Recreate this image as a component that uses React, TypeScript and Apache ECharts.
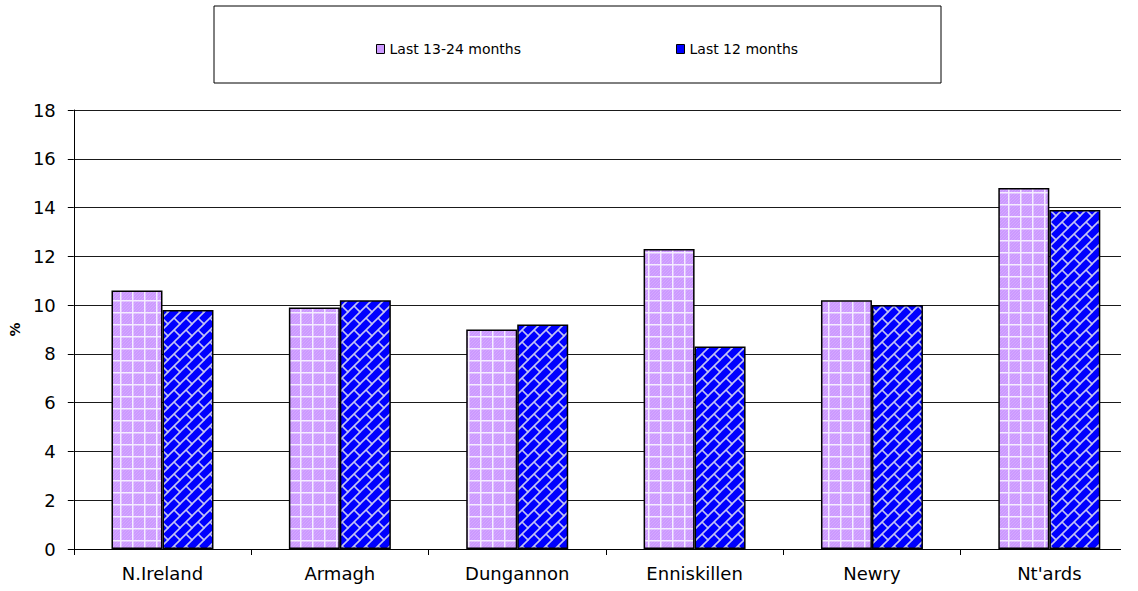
import React, { useEffect, useRef } from "react";
import * as echarts from "echarts";

const categories = ["N.Ireland", "Armagh", "Dungannon", "Enniskillen", "Newry", "Nt'ards"];
const last13to24 = [10.6, 9.9, 9.0, 12.3, 10.2, 14.8];
const last12 = [9.8, 10.2, 9.2, 8.3, 10.0, 13.9];
const seriesNames = ["Last 13-24 months", "Last 12 months"];
const yMin = 0;
const yMax = 18;
const yInterval = 2;

const FONT = "DejaVu Sans";

function makeLightPattern(): string {
  const c = document.createElement("canvas");
  c.width = 12;
  c.height = 12;
  const g = c.getContext("2d")!;
  g.fillStyle = "#cc99ff";
  g.fillRect(0, 0, 12, 12);
  g.strokeStyle = "rgba(255,255,255,0.16)";
  g.lineWidth = 1;
  for (let k = -12; k <= 24; k += 3) {
    g.beginPath();
    g.moveTo(-2, k + 2);
    g.lineTo(k + 2, -2);
    g.stroke();
  }
  g.fillStyle = "#f4ecff";
  g.fillRect(0, 0, 12, 1.5);
  g.fillRect(0, 0, 1.5, 12);
  return c.toDataURL();
}

function makeDarkPattern(): string {
  const c = document.createElement("canvas");
  c.width = 12;
  c.height = 12;
  const g = c.getContext("2d")!;
  g.fillStyle = "#0000ff";
  g.fillRect(0, 0, 12, 12);
  g.strokeStyle = "#c4c4f4";
  g.lineWidth = 1.6;
  for (const k of [0, 12, 24]) {
    g.beginPath();
    g.moveTo(-2, k + 2);
    g.lineTo(k + 2, -2);
    g.stroke();
  }
  g.beginPath();
  g.moveTo(6, 6);
  g.lineTo(12.5, 12.5);
  g.stroke();
  g.beginPath();
  g.moveTo(-0.5, -0.5);
  g.lineTo(0.5, 0.5);
  g.stroke();
  return c.toDataURL();
}

export default function App() {
  const ref = useRef<HTMLDivElement>(null);
  useEffect(() => {
    if (!ref.current) return;
    const chart = echarts.init(ref.current, undefined, { renderer: "svg" });
    const lightImg = makeLightPattern();
    const darkImg = makeDarkPattern();
    const legendText = { fontFamily: FONT, fontSize: 14, color: "#000", lineHeight: 16 };
    chart.setOption({
      animation: false,
      backgroundColor: "#fff",
      grid: { left: 71, right: -9, top: 110, bottom: 42 },
      legend: [
        {
          data: [
            {
              name: seriesNames[0],
              itemStyle: { color: "#cc99ff", borderColor: "#000", borderWidth: 1 },
            },
          ],
          left: 371,
          top: 36,
          icon: "rect",
          itemWidth: 8,
          itemHeight: 9,
          selectedMode: false,
          textStyle: legendText,
        },
        {
          data: [
            {
              name: seriesNames[1],
              itemStyle: { color: "#0000ff", borderColor: "#000", borderWidth: 1 },
            },
          ],
          left: 671,
          top: 36,
          icon: "rect",
          itemWidth: 8,
          itemHeight: 9,
          selectedMode: false,
          textStyle: legendText,
        },
      ],
      xAxis: {
        type: "category",
        data: categories,
        axisLine: { lineStyle: { color: "#000", width: 1 } },
        axisTick: { show: true, length: 6, lineStyle: { color: "#000" } },
        axisLabel: { fontFamily: FONT, fontSize: 18, color: "#000", margin: 15 },
        splitLine: { show: false },
      },
      yAxis: {
        type: "value",
        min: yMin,
        max: yMax,
        interval: yInterval,
        name: "%",
        nameLocation: "middle",
        nameGap: 45,
        nameTextStyle: { fontFamily: FONT, fontSize: 14, fontWeight: "bold", color: "#000" },
        axisLine: { show: true, lineStyle: { color: "#000", width: 1 } },
        axisTick: { show: true, length: 6, lineStyle: { color: "#000" } },
        axisLabel: { fontFamily: FONT, fontSize: 18, color: "#000", margin: 18 },
        splitLine: { show: true, lineStyle: { color: "#1a1a1a", width: 1 } },
      },
      graphic: [
        {
          type: "rect",
          shape: { x: 214, y: 6, width: 727, height: 77 },
          style: { fill: "none", stroke: "#000", lineWidth: 1 },
          z: 100,
        },
        {
          type: "rect",
          shape: { x: 1121, y: 100, width: 30, height: 452 },
          style: { fill: "#fff" },
          z: 100,
        },
      ],
      series: [
        {
          type: "bar",
          name: seriesNames[0],
          data: last13to24,
          barGap: "0%",
          barCategoryGap: "42.5%",
          itemStyle: {
            color: { image: lightImg, repeat: "repeat", imageWidth: 12, imageHeight: 12 },
            borderColor: "#000",
            borderWidth: 1.5,
          },
        },
        {
          type: "bar",
          name: seriesNames[1],
          data: last12,
          barGap: "0%",
          barCategoryGap: "42.5%",
          itemStyle: {
            color: { image: darkImg, repeat: "repeat", imageWidth: 12, imageHeight: 12 },
            borderColor: "#000",
            borderWidth: 1.5,
          },
        },
      ],
    });
    return () => chart.dispose();
  }, []);
  return (
    <div
      ref={ref}
      style={{ position: "absolute", left: 0, top: 0, width: 1138, height: 591, background: "#fff" }}
    />
  );
}
